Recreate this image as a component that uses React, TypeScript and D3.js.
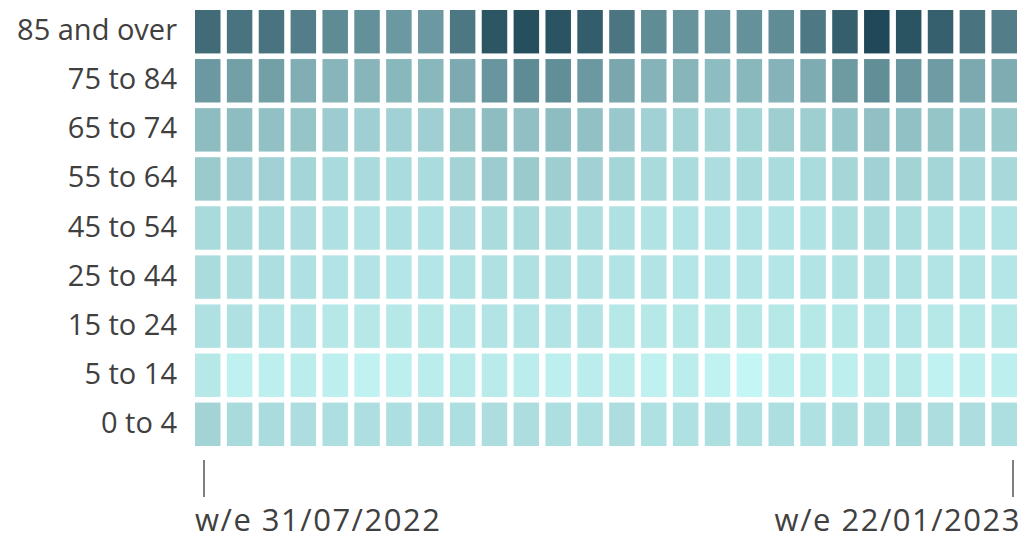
import React from "react";
import * as d3 from "d3";

const ageGroups = ["85 and over", "75 to 84", "65 to 74", "55 to 64", "45 to 54", "25 to 44", "15 to 24", "5 to 14", "0 to 4"];

const weeks = [
  "31/07/2022", "07/08/2022", "14/08/2022", "21/08/2022", "28/08/2022", "04/09/2022",
  "11/09/2022", "18/09/2022", "25/09/2022", "02/10/2022", "09/10/2022", "16/10/2022",
  "23/10/2022", "30/10/2022", "06/11/2022", "13/11/2022", "20/11/2022", "27/11/2022",
  "04/12/2022", "11/12/2022", "18/12/2022", "25/12/2022", "01/01/2023", "08/01/2023",
  "15/01/2023", "22/01/2023",
];

// intensity per age group (0 = lightest, 100 = darkest), one value per week
const v85plus = [79, 74, 74, 68, 61, 58, 53, 53, 72, 91, 95, 92, 87, 73, 60, 56, 53, 57, 60, 71, 86, 99, 92, 85, 74, 68];
const v75to84 = [53, 49, 49, 41, 37, 37, 36, 36, 43, 55, 61, 59, 53, 45, 38, 37, 33, 36, 38, 42, 52, 59, 54, 51, 44, 42];
const v65to74 = [33, 33, 30, 28, 24, 22, 21, 22, 28, 33, 31, 33, 30, 26, 21, 20, 18, 19, 23, 23, 27, 31, 30, 28, 26, 25];
const v55to64 = [25, 22, 21, 19, 16, 16, 15, 15, 20, 24, 25, 23, 21, 19, 16, 15, 14, 15, 15, 15, 18, 21, 20, 19, 17, 17];
const v45to54 = [16, 16, 15, 14, 12, 11, 12, 11, 14, 15, 16, 15, 13, 12, 11, 10, 10, 10, 10, 11, 13, 15, 13, 12, 11, 10];
const v25to44 = [15, 13, 13, 12, 10, 10, 9, 9, 11, 12, 12, 12, 11, 10, 10, 9, 9, 9, 9, 10, 11, 12, 11, 10, 10, 9];
const v15to24 = [12, 12, 10, 10, 8, 8, 8, 8, 9, 10, 10, 10, 10, 8, 8, 8, 8, 8, 8, 8, 8, 9, 9, 8, 8, 8];
const v5to14 = [8, 3, 4, 5, 4, 2, 4, 5, 6, 6, 5, 4, 5, 5, 3, 5, 2, 0, 4, 5, 4, 6, 6, 2, 4, 4];
const v0to4 = [20, 16, 15, 14, 13, 13, 13, 13, 13, 14, 14, 13, 12, 14, 12, 12, 13, 12, 13, 12, 13, 13, 16, 14, 14, 13];

const seriesValues = [v85plus, v75to84, v65to74, v55to64, v45to54, v25to44, v15to24, v5to14, v0to4];

const colorRange = ["#c4f6f5", "#1e4656"];

export default function App() {
  const width = 1025;
  const height = 540;

  const x = d3.scaleBand<string>().domain(weeks).range([195, 1017]).paddingInner(0.2).paddingOuter(0);
  const y = d3.scaleBand<string>().domain(ageGroups).range([10, 446]).paddingInner(0.115).paddingOuter(0);
  const color = d3.scaleLinear<string>().domain([0, 100]).range(colorRange).interpolate(d3.interpolateRgb);
  const tickX = d3.scaleLinear().domain([0, weeks.length - 1]).range([204, 1013]);

  const cells = ageGroups.flatMap((g, gi) =>
    weeks.map((w, wi) => ({ g, w, v: seriesValues[gi][wi] }))
  );

  const firstWeek = weeks[0];
  const lastWeek = weeks[weeks.length - 1];
  const textColor = "#404040";
  const font = "'Open Sans', sans-serif";

  return (
    <svg width={width} height={height} style={{ position: "absolute", left: 0, top: 0, background: "#fff" }}>
      <g>
        {cells.map((c) => (
          <rect
            key={c.g + c.w}
            x={x(c.w)}
            y={y(c.g)}
            width={x.bandwidth()}
            height={y.bandwidth()}
            fill={color(c.v)}
          />
        ))}
      </g>
      <g fontFamily={font} fontSize={29} fill={textColor}>
        {ageGroups.map((g) => (
          <text key={g} x={177} y={(y(g) as number) + y.bandwidth() / 2 + 8.5} textAnchor="end">
            {g}
          </text>
        ))}
      </g>
      <g stroke="#555" strokeWidth={1.5}>
        <line x1={tickX(0)} x2={tickX(0)} y1={460} y2={497} />
        <line x1={tickX(weeks.length - 1)} x2={tickX(weeks.length - 1)} y1={460} y2={497} />
      </g>
      <g fontFamily={font} fontSize={31} fill={textColor} letterSpacing={1.5}>
        <text x={tickX(0) - 9} y={531} textAnchor="start">{"w/e " + firstWeek}</text>
        <text x={tickX(weeks.length - 1) + 8} y={531} textAnchor="end">{"w/e " + lastWeek}</text>
      </g>
    </svg>
  );
}
